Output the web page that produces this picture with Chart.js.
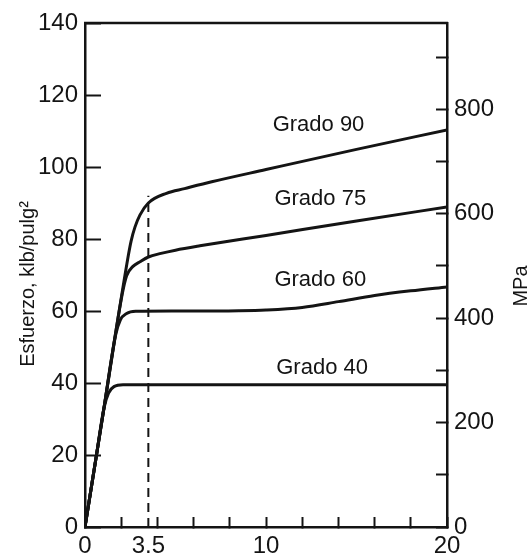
<!DOCTYPE html>
<html>
<head>
<meta charset="utf-8">
<title>Esfuerzo - deformacion, varillas de refuerzo</title>
<script src="https://cdn.jsdelivr.net/npm/chart.js@4.4.1/dist/chart.umd.min.js"></script>
<style>
    html, body { margin: 0; padding: 0; background: #fff; }
    #wrap { width: 528px; height: 556px; }
</style>
</head>
<body>
<div id="wrap"><canvas id="chart" width="528" height="556"></canvas></div>
<script>
// deformacion unitaria (x 10^-3) y esfuerzo (klb/pulg2)
const strain40 = [0, 0.6, 1.05, 1.3, 1.6, 2.1, 6, 12, 20];
const stress40 = [0, 18.9, 33.1, 37.2, 39.0, 39.5, 39.5, 39.5, 39.5];

const strain60 = [0, 1.0, 1.7, 1.95, 2.3, 2.8, 5, 8.5, 10, 12, 14, 16, 18, 20];
const stress60 = [0, 31.5, 53.5, 57.5, 59.3, 59.9, 60, 60.1, 60.3, 61, 62.6, 64.3, 65.6, 66.7];

const strain75 = [0, 1.0, 2.05, 2.3, 2.65, 3.04, 3.5, 4.2, 5, 6.35, 10, 15, 20];
const stress75 = [0, 31.5, 64.5, 69.8, 72.4, 73.7, 75, 76.0, 76.9, 78.1, 81.0, 85.0, 88.9];

const strain90 = [0, 1.0, 2.4, 2.55, 2.76, 3.04, 3.5, 4.5, 5.5, 7, 10, 15, 20];
const stress90 = [0, 31.5, 75.6, 79.5, 83.3, 86.7, 90, 92.7, 94.0, 95.9, 99.3, 104.9, 110.3];

const gradeNames = ["Grado 40", "Grado 60", "Grado 75", "Grado 90"];

// linea de referencia en 3.5
const refStrain = [3.5, 3.5];
const refStress = [0, 92];

// ejes
const strainTicks = [0, 2, 3.5, 4, 6, 8, 10, 12, 14, 16, 18, 20];
const strainLabels = [0, 3.5, 10, 20];
const stressTicks = [0, 20, 40, 60, 80, 100, 120, 140];
const mpaTicks = [0, 100, 200, 300, 400, 500, 600, 700, 800, 900];
const mpaLabels = [0, 200, 400, 600, 800];
const KSI_TO_MPA = 6.895;

const ink = "#141414";
const fontFam = '"Liberation Sans", Arial, Helvetica, sans-serif';

function toPoints(xs, ys) {
    return xs.map((x, i) => ({ x: x, y: ys[i] }));
}

function curve(xs, ys) {
    return {
        data: toPoints(xs, ys),
        borderColor: ink,
        borderWidth: 3,
        pointRadius: 0,
        fill: false,
        cubicInterpolationMode: "monotone"
    };
}

let datasets = [
    curve(strain40, stress40),
    curve(strain60, stress60),
    curve(strain75, stress75),
    curve(strain90, stress90),
    {
        data: toPoints(refStrain, refStress),
        borderColor: ink,
        borderWidth: 2,
        borderDash: [9, 6],
        pointRadius: 0,
        fill: false
    }
];

// donde van los rotulos de cada grado (en unidades del grafico)
const labelAt = [[13.1, 44.2], [13.0, 68.6], [13.0, 91.1], [12.9, 111.7]];

const extras = {
    id: "extras",
    afterDraw(chart) {
        const ctx = chart.ctx;
        const a = chart.chartArea;
        const sx = chart.scales.x;
        const sy = chart.scales.y;
        ctx.save();
        // borde superior del marco
        ctx.strokeStyle = ink;
        ctx.lineWidth = 2.5;
        ctx.beginPath();
        ctx.moveTo(a.left - 1, a.top);
        ctx.lineTo(a.right + 1, a.top);
        ctx.stroke();

        ctx.fillStyle = ink;
        ctx.textAlign = "center";
        ctx.textBaseline = "middle";
        ctx.font = "22px " + fontFam;
        gradeNames.forEach((name, i) => {
            ctx.fillText(name, sx.getPixelForValue(labelAt[i][0]), sy.getPixelForValue(labelAt[i][1]));
        });

        // titulos de ejes (ambos se leen de abajo hacia arriba)
        const mid = (a.top + a.bottom) / 2;
        ctx.font = "20px " + fontFam;
        ctx.save();
        ctx.translate(a.left - 57, mid + 9);
        ctx.rotate(-Math.PI / 2);
        ctx.fillText("Esfuerzo, klb/pulg²", 0, 0);
        ctx.restore();

        ctx.save();
        ctx.translate(a.right + 74, mid + 11);
        ctx.rotate(-Math.PI / 2);
        ctx.fillText("MPa", 0, 0);
        ctx.restore();

        ctx.restore();
    }
};

// quitar el relleno que chart.js agrega por la mitad de las etiquetas
function fixY(width) {
    return s => {
        s.width = width;
        s.paddingTop = 0;
        s.paddingBottom = 0;
    };
}

let options = {
    responsive: false,
    animation: false,
    layout: { padding: { top: 23, left: 0, right: 0, bottom: 0 } },
    plugins: {
        legend: { display: false },
        tooltip: { enabled: false }
    },
    scales: {
        x: {
            type: "linear",
            position: "bottom",
            min: 0,
            max: 20,
            afterBuildTicks: s => { s.ticks = strainTicks.map(v => ({ value: v })); },
            afterFit: s => { s.height = 29; },
            ticks: {
                autoSkip: false,
                maxRotation: 0,
                padding: 15,
                color: ink,
                font: { family: fontFam, size: 24 },
                callback: v => strainLabels.includes(v) ? String(v) : ""
            },
            grid: {
                drawOnChartArea: false,
                drawTicks: true,
                tickLength: -10,
                tickWidth: 2,
                tickColor: c => (c.tick && c.tick.value === 3.5) ? "rgba(0,0,0,0)" : ink
            },
            border: { display: true, color: ink, width: 2.5 }
        },
        y: {
            type: "linear",
            position: "left",
            min: 0,
            max: 140,
            afterBuildTicks: s => { s.ticks = stressTicks.map(v => ({ value: v })); },
            afterFit: fixY(85),
            ticks: {
                autoSkip: false,
                padding: 23,
                color: ink,
                font: { family: fontFam, size: 24 }
            },
            grid: {
                drawOnChartArea: false,
                drawTicks: true,
                tickLength: -16,
                tickWidth: 2,
                tickColor: ink
            },
            border: { display: true, color: ink, width: 2.5 }
        },
        y2: {
            type: "linear",
            position: "right",
            min: 0,
            max: 140 * KSI_TO_MPA,
            afterBuildTicks: s => { s.ticks = mpaTicks.map(v => ({ value: v })); },
            afterFit: fixY(81),
            ticks: {
                autoSkip: false,
                padding: 18,
                color: ink,
                font: { family: fontFam, size: 24 },
                callback: v => mpaLabels.includes(v) ? String(v) : ""
            },
            grid: {
                drawOnChartArea: false,
                drawTicks: true,
                tickLength: -11,
                tickWidth: 2,
                tickColor: ink
            },
            border: { display: true, color: ink, width: 2.5 }
        }
    }
};

let myChart = new Chart("chart", {
    type: "line",
    data: { datasets: datasets },
    options: options,
    plugins: [extras]
});
</script>
</body>
</html>
